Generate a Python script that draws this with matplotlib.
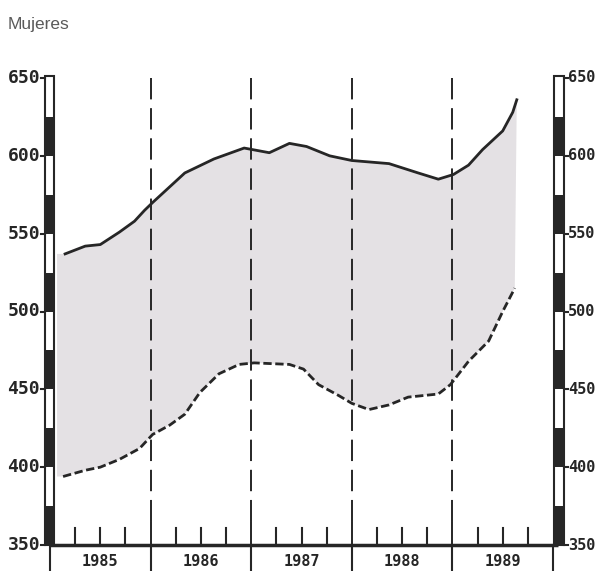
"""
Mujeres: band between upper and lower series, 1985-1989,
drawn in the style of an old dot-matrix print chart.
"""
import numpy as np
import matplotlib.pyplot as plt
from matplotlib.patches import Rectangle

TITLE = "Mujeres"
YEARS = [1985, 1986, 1987, 1988, 1989]
Y_TICKS = [350, 400, 450, 500, 550, 600, 650]

# upper edge of the band (solid line)
UPPER_X = [1985.15, 1985.35, 1985.50, 1985.69, 1985.84, 1985.94, 1986.02,
           1986.34, 1986.63, 1986.93, 1987.18, 1987.38, 1987.55, 1987.78,
           1988.00, 1988.37, 1988.66, 1988.86, 1989.01, 1989.16, 1989.30,
           1989.50, 1989.60, 1989.64]
UPPER_Y = [537, 542, 543, 551, 558, 565, 570,
           589, 598, 605, 602, 608, 606, 600,
           597, 595, 589, 585, 588, 594, 604,
           616, 628, 636]

# lower edge of the band (dashed line)
LOWER_X = [1985.13, 1985.35, 1985.50, 1985.69, 1985.89, 1986.02, 1986.19,
           1986.34, 1986.49, 1986.68, 1986.88, 1987.03, 1987.38, 1987.52,
           1987.67, 1987.87, 1988.00, 1988.17, 1988.37, 1988.56, 1988.86,
           1988.98, 1989.16, 1989.36, 1989.50, 1989.62]
LOWER_Y = [394, 398, 400, 405, 412, 421, 427,
           434, 448, 460, 466, 467, 466, 463,
           453, 446, 441, 437, 440, 445, 447,
           453, 468, 481, 500, 515]

FILL_START = 1985.07

INK = '#262626'
BAND = '#e4e1e4'

fig = plt.figure(figsize=(6, 5.71), dpi=100)
ax = fig.add_axes([50 / 600, 1 - 545 / 571, 503 / 600, (545 - 78) / 571])
ax.set_xlim(1985, 1990)
ax.set_ylim(350, 650)
ax.axis('off')

# pixel -> data helpers for decorations
PX = 5 / 503
PY = 300 / 467

# --- band ---
poly_x = [FILL_START] + UPPER_X + LOWER_X[::-1] + [FILL_START]
poly_y = [UPPER_Y[0]] + UPPER_Y + LOWER_Y[::-1] + [LOWER_Y[0]]
ax.fill(poly_x, poly_y, color=BAND, lw=0, zorder=1)
ax.plot(UPPER_X, UPPER_Y, color=INK, lw=2, zorder=3, clip_on=False)
ax.plot(LOWER_X, LOWER_Y, color=INK, lw=2, ls=(0, (3, 1.3)), zorder=3,
        clip_on=False)

# --- year separators ---
for yr in YEARS[1:]:
    ax.plot([yr, yr], [650, 365], color=INK, lw=1.4, ls=(0, (11, 4.5)),
            zorder=2, clip_on=False)
    ax.plot([yr, yr], [365, 350], color=INK, lw=1.4, zorder=2, clip_on=False)
for yr in YEARS + [1990]:
    ax.plot([yr, yr], [350, 350 - 26 * PY], color=INK, lw=1.5, clip_on=False)
    if yr < 1990:
        for q in (0.25, 0.5, 0.75):
            ax.plot([yr + q, yr + q], [350, 350 + 17 * PY], color=INK, lw=1.5,
                    clip_on=False)
        ax.text(yr + 0.5, 350 - 16 * PY, str(yr), ha='center', va='center',
                fontsize=11, fontweight='bold', family='DejaVu Sans Mono',
                color=INK)

# bottom axis
ax.plot([1985, 1990.05], [350, 350], color=INK, lw=2.5, clip_on=False,
        solid_capstyle='butt')

# --- striped scale bars on both sides ---
top = 650 + 2 * PY
for x0, w, side in [(1985 - 5 * PX, 9 * PX, 'left'),
                    (1990 + 1 * PX, 10 * PX, 'right')]:
    ax.add_patch(Rectangle((x0, 350), w, top - 350, facecolor='white',
                           edgecolor=INK, lw=1.5, clip_on=False, zorder=4))
    for s in np.arange(350, 650, 50):
        ax.add_patch(Rectangle((x0, s), w, 25, facecolor=INK, lw=0,
                               clip_on=False, zorder=5))
    for v in Y_TICKS:
        if side == 'left':
            ax.plot([x0 - 4 * PX, x0], [v, v], color=INK, lw=1.5,
                    clip_on=False, zorder=5)
            ax.text(x0 - 5 * PX, v, str(v), ha='right', va='center',
                    fontsize=13, fontweight='bold', family='DejaVu Sans Mono',
                    color=INK)
        else:
            ax.plot([x0 + w, x0 + w + 4 * PX], [v, v], color=INK, lw=1.5,
                    clip_on=False, zorder=5)
            ax.text(x0 + w + 4 * PX, v, str(v), ha='left', va='center',
                    fontsize=11, fontweight='bold', family='DejaVu Sans Mono',
                    color=INK)

fig.text(8 / 600, 1 - 24 / 571, TITLE, ha='left', va='center', fontsize=12.5,
         family='Liberation Sans', color='#5a5a5a')

fig.savefig('out.png', dpi=100)
